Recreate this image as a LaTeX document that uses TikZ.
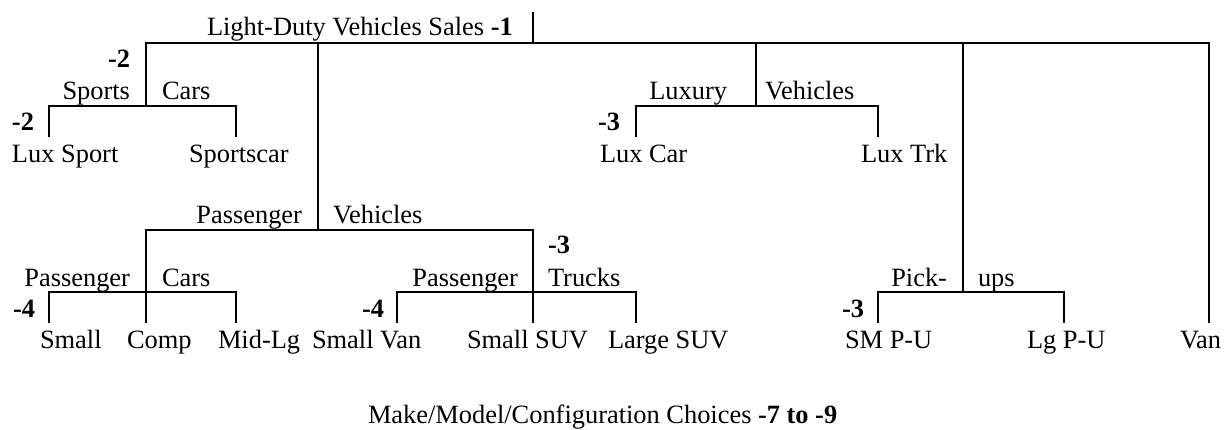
\documentclass[tikz,border=0pt]{standalone}
\usepackage{fontspec}
\setmainfont{Liberation Serif}
\begin{document}
\begin{tikzpicture}[x=1pt,y=-1pt,
  br/.style={line width=2.4pt,line join=miter,line cap=butt},
  lbl/.style={inner sep=0pt,outer sep=0pt,font=\fontsize{26.4}{30}\selectfont}]
\useasboundingbox (0,0) rectangle (1230,429);
% junction coordinates
\coordinate (tick) at (533,12);
\coordinate (root) at (533,43);
\coordinate (tl) at (146,43);
\coordinate (tr) at (1209,43);
\coordinate (van) at (1209,323);
\coordinate (sc) at (146,106);
\coordinate (scl) at (49,106);
\coordinate (scr) at (236,106);
\coordinate (luxsport) at (49,137);
\coordinate (sportscar) at (236,137);
\coordinate (pvtop) at (318,43);
\coordinate (pv) at (318,230);
\coordinate (pvl) at (146,230);
\coordinate (pvr) at (533,230);
\coordinate (pcj) at (146,292);
\coordinate (pcl) at (49,292);
\coordinate (pcr) at (236,292);
\coordinate (small) at (49,323);
\coordinate (comp) at (146,323);
\coordinate (midlg) at (236,323);
\coordinate (ptj) at (533,292);
\coordinate (ptl) at (397,292);
\coordinate (ptr) at (636,292);
\coordinate (smallvan) at (397,323);
\coordinate (smallsuv) at (533,323);
\coordinate (largesuv) at (636,323);
\coordinate (lvtop) at (756,43);
\coordinate (lv) at (756,106);
\coordinate (lvl) at (636,106);
\coordinate (lvr) at (878,106);
\coordinate (luxcar) at (636,137);
\coordinate (luxtrk) at (878,137);
\coordinate (putop) at (963,43);
\coordinate (pu) at (963,292);
\coordinate (pul) at (878,292);
\coordinate (pur) at (1064,292);
\coordinate (smpu) at (878,323);
\coordinate (lgpu) at (1064,323);
% connectors
\draw[br] (tick) -- (root);
\draw[br] (sc) -- (tl) -- (tr) -- (van);
\draw[br] (luxsport) -- (scl) -- (scr) -- (sportscar);
\draw[br] (pvtop) -- (pv);
\draw[br] (comp) -- (pvl) -- (pvr) -- (smallsuv);
\draw[br] (small) -- (pcl) -- (pcr) -- (midlg);
\draw[br] (smallvan) -- (ptl) -- (ptr) -- (largesuv);
\draw[br] (lvtop) -- (lv);
\draw[br] (luxcar) -- (lvl) -- (lvr) -- (luxtrk);
\draw[br] (putop) -- (pu);
\draw[br] (smpu) -- (pul) -- (pur) -- (lgpu);
% labels
\node[lbl,anchor=base west] (t1) at (207,35) {Light-Duty Vehicles Sales \textbf{-1}};
\node[lbl,anchor=base east] (t2) at (130,67) {\textbf{-2}};
\node[lbl,anchor=base east] (t3) at (130,99) {Sports};
\node[lbl,anchor=base west] (t4) at (162,99) {Cars};
\node[lbl,anchor=base west] (t5) at (12,130) {\textbf{-2}};
\node[lbl,anchor=base west] (t6) at (12,162) {Lux Sport};
\node[lbl,anchor=base west] (t7) at (189,162) {Sportscar};
\node[lbl,anchor=base east] (t8) at (727,99) {Luxury};
\node[lbl,anchor=base west] (t9) at (765,99) {Vehicles};
\node[lbl,anchor=base east] (t10) at (620,130) {\textbf{-3}};
\node[lbl,anchor=base west] (t11) at (600,162) {Lux Car};
\node[lbl,anchor=base west] (t12) at (861,162) {Lux Trk};
\node[lbl,anchor=base east] (t13) at (302,223) {Passenger};
\node[lbl,anchor=base west] (t14) at (333,223) {Vehicles};
\node[lbl,anchor=base east] (t15) at (130,286) {Passenger};
\node[lbl,anchor=base west] (t16) at (162,286) {Cars};
\node[lbl,anchor=base west] (t17) at (548,253) {\textbf{-3}};
\node[lbl,anchor=base east] (t18) at (518,286) {Passenger};
\node[lbl,anchor=base west] (t19) at (548,286) {Trucks};
\node[lbl,anchor=base east] (t20) at (947,286) {Pick-};
\node[lbl,anchor=base west] (t21) at (978,286) {ups};
\node[lbl,anchor=base west] (t22) at (13,317) {\textbf{-4}};
\node[lbl,anchor=base west] (t23) at (362,317) {\textbf{-4}};
\node[lbl,anchor=base west] (t24) at (842,317) {\textbf{-3}};
\node[lbl,anchor=base west] (l1) at (40,348) {Small};
\node[lbl,anchor=base west] (l2) at (127,348) {Comp};
\node[lbl,anchor=base west] (l3) at (218,348) {Mid-Lg};
\node[lbl,anchor=base west] (l4) at (312,348) {Small Van};
\node[lbl,anchor=base west] (l5) at (467,348) {Small SUV};
\node[lbl,anchor=base west] (l6) at (608,348) {Large SUV};
\node[lbl,anchor=base west] (l7) at (845,348) {SM P-U};
\node[lbl,anchor=base west] (l8) at (1027,348) {Lg P-U};
\node[lbl,anchor=base west] (l9) at (1180,348) {Van};
\node[lbl,anchor=base west] (b1) at (368,423) {Make/Model/Configuration Choices \textbf{-7 to -9}};
\end{tikzpicture}
\end{document}
